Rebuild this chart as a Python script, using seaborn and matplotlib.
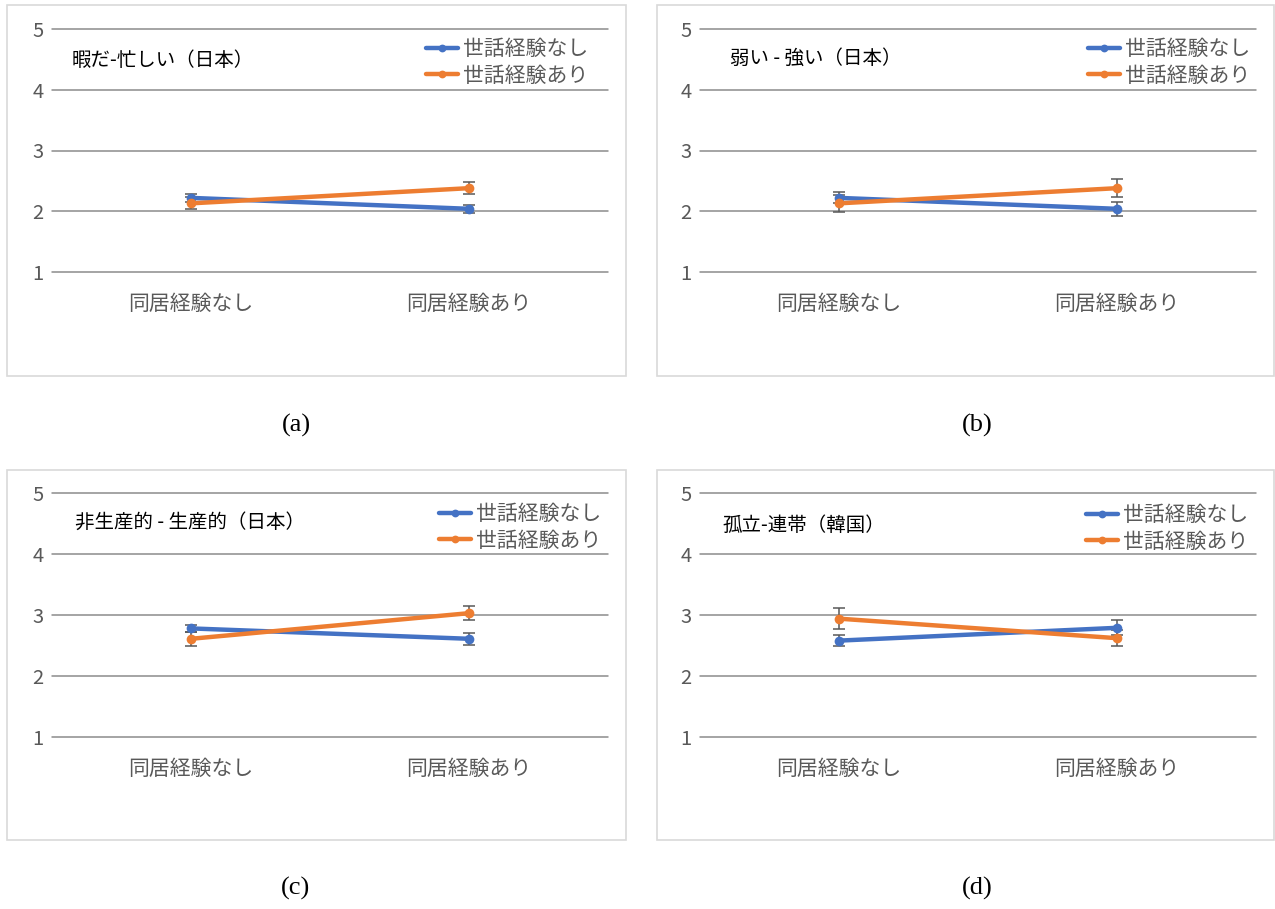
import numpy as np
import pandas as pd
import matplotlib
matplotlib.use("Agg")
import matplotlib.pyplot as plt
from matplotlib.patches import Rectangle
import seaborn as sns

# Categories and series
categories = ["同居経験なし", "同居経験あり"]
series_names = ["世話経験なし", "世話経験あり"]
panel_titles = ["暇だ-忙しい（日本）", "弱い - 強い（日本）", "非生産的 - 生産的（日本）", "孤立-連帯（韓国）"]
panel_captions = ["(a)", "(b)", "(c)", "(d)"]

# Means (rows: 世話経験なし, 世話経験あり; columns: categories)
means_a = [[2.22, 2.04], [2.13, 2.38]]
means_b = [[2.22, 2.04], [2.13, 2.38]]
means_c = [[2.78, 2.61], [2.61, 3.03]]
means_d = [[2.58, 2.79], [2.94, 2.62]]

# Standard errors
errs_a = [[0.07, 0.07], [0.10, 0.10]]
errs_b = [[0.09, 0.11], [0.14, 0.15]]
errs_c = [[0.06, 0.10], [0.11, 0.11]]
errs_d = [[0.09, 0.12], [0.17, 0.13]]

y_ticks = [1, 2, 3, 4, 5]

sns.set_theme(style="white")
plt.rcParams["font.family"] = ["Noto Sans CJK JP", "DejaVu Sans"]

W, H = 1275, 909
fig = plt.figure(figsize=(W / 100, H / 100), dpi=100)
fig.patch.set_facecolor("white")

palette = {"世話経験なし": "#4472C4", "世話経験あり": "#ED7D31"}


def fig_rect(x0, y0, x1, y1):
    """Convert pixel box (top-left origin) to figure fraction rect."""
    return [x0 / W, 1 - y1 / H, (x1 - x0) / W, (y1 - y0) / H]


# Pixel layout of each panel: frame box, plot area, title position, legend anchor, caption position
layouts = [
    dict(box=(7, 5, 626, 376), plot=(52, 29, 608, 272), title=(72, 60), legend=(416, 28), caption=(296, 425)),
    dict(box=(657, 5, 1274, 376), plot=(700, 29, 1256, 272), title=(730, 58), legend=(1078, 28), caption=(977, 425)),
    dict(box=(7, 470, 626, 840), plot=(52, 493, 608, 737), title=(75, 522), legend=(429, 493), caption=(296, 888)),
    dict(box=(657, 470, 1274, 840), plot=(700, 493, 1256, 737), title=(722, 525), legend=(1076, 494), caption=(977, 888)),
]

all_means = [means_a, means_b, means_c, means_d]
all_errs = [errs_a, errs_b, errs_c, errs_d]

for lay, means, errs, title, cap in zip(layouts, all_means, all_errs, panel_titles, panel_captions):
    # Chart frame
    bx0, by0, bx1, by1 = lay["box"]
    fig.patches.append(Rectangle((bx0 / W, 1 - by1 / H), (bx1 - bx0) / W, (by1 - by0) / H,
                                 transform=fig.transFigure, fill=False,
                                 edgecolor="#D9D9D9", linewidth=1.2, zorder=0))

    ax = fig.add_axes(fig_rect(*lay["plot"]))
    ax.set_facecolor("none")

    rows = []
    for s, name in enumerate(series_names):
        for c, cat in enumerate(categories):
            rows.append({"cat": cat, "series": name, "mean": means[s][c], "se": errs[s][c]})
    df = pd.DataFrame(rows)

    sns.lineplot(data=df, x="cat", y="mean", hue="series", hue_order=series_names,
                 palette=palette, marker="o", markersize=7, markeredgewidth=0,
                 linewidth=3.2, ax=ax, zorder=3, errorbar=None)

    xpos = {cat: i for i, cat in enumerate(categories)}
    for name in series_names:
        sub = df[df["series"] == name]
        ax.errorbar([xpos[c] for c in sub["cat"]], sub["mean"], yerr=sub["se"],
                    fmt="none", ecolor="#595959", elinewidth=1.1, capsize=4,
                    capthick=1.1, zorder=2)

    ax.set_xlim(-0.5, 1.5)
    ax.set_ylim(1, 5)
    ax.set_yticks(y_ticks)
    ax.yaxis.grid(True, color="#8C8C8C", linewidth=1.1)
    ax.xaxis.grid(False)
    for gl in ax.get_ygridlines():
        gl.set_clip_on(False)
    for sp in ax.spines.values():
        sp.set_visible(False)
    ax.tick_params(axis="y", length=0, pad=6, labelsize=14.5, labelcolor="#595959")
    ax.tick_params(axis="x", length=0, pad=15, labelsize=15, labelcolor="#595959")
    ax.set_xlabel("")
    ax.set_ylabel("")

    # Title inside plot area
    tx, ty = lay["title"]
    fig.text(tx / W, 1 - ty / H, title, fontsize=14, color="#000000", va="center", ha="left")

    # Legend
    handles, labels = ax.get_legend_handles_labels()
    lx, ly = lay["legend"]
    ax.legend(handles, labels, loc="upper left", bbox_to_anchor=(lx / W, 1 - ly / H),
              bbox_transform=fig.transFigure, frameon=False, fontsize=15,
              labelcolor="#595959", handlelength=1.5, handletextpad=0.25,
              labelspacing=0.2, borderpad=0, markerscale=0.8)

    # Caption below the chart
    cx, cy = lay["caption"]
    fig.text(cx / W, 1 - cy / H, cap, fontsize=19, family="Liberation Serif",
             ha="center", va="center", color="#000000")

fig.savefig("out.png", dpi=100, facecolor="white")
